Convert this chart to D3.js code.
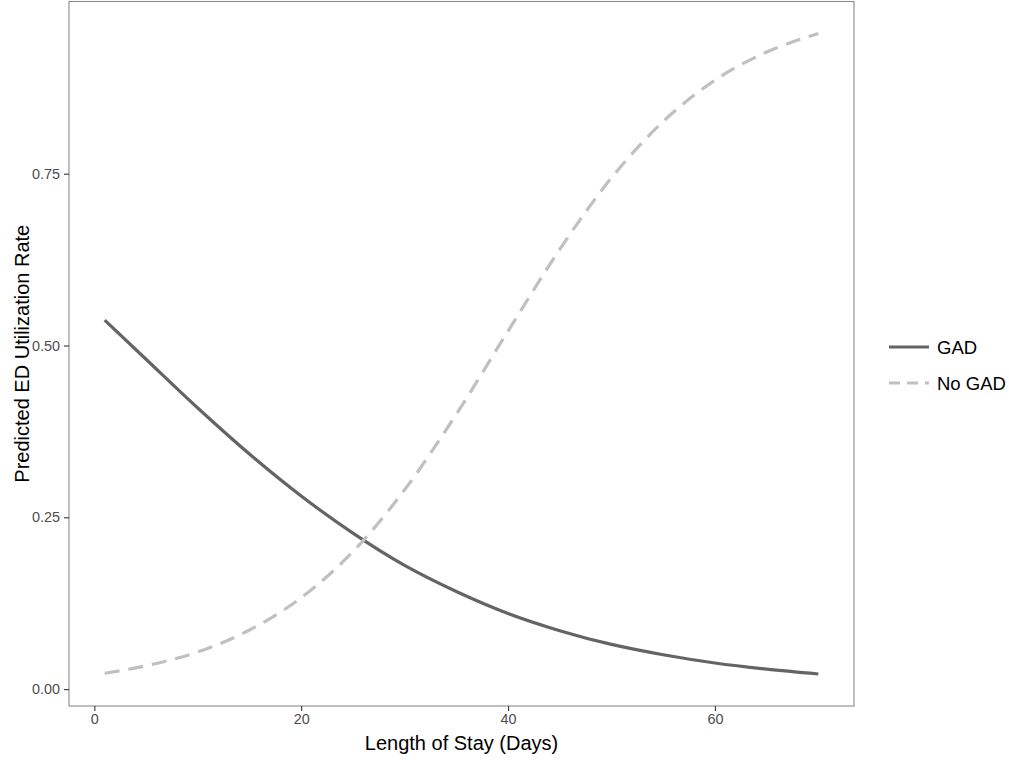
<!DOCTYPE html>
<html>
<head>
<meta charset="utf-8">
<script src="https://cdn.jsdelivr.net/npm/d3@7"></script>
<style>
  body { margin: 0; background: #fff; }
  svg { font-family: "Liberation Sans", Arial, sans-serif; }
</style>
</head>
<body>
<svg id="chart" width="1009" height="764"></svg>
<script>
// length of stay (days) and predicted rates
var days  = [1, 5, 10, 15, 20, 25, 30, 35, 40, 45, 50, 55, 60, 65, 70];
var gad   = [0.537, 0.480, 0.409, 0.342, 0.281, 0.227, 0.180, 0.142, 0.110, 0.085, 0.065, 0.050, 0.038, 0.029, 0.022];
var noGad = [0.023, 0.034, 0.054, 0.086, 0.133, 0.200, 0.290, 0.400, 0.521, 0.640, 0.744, 0.826, 0.886, 0.927, 0.954];
var seriesNames = ["GAD", "No GAD"];
var xTicks = [0, 20, 40, 60];
var yTicks = [0, 0.25, 0.5, 0.75];

var svg = d3.select("#chart");
var pLeft = 69, pRight = 854, pTop = 1.5, pBottom = 706;

var xMin = d3.min(days), xMax = d3.max(days),
    xPad = (xMax - xMin) * 0.05;
var allY = gad.concat(noGad),
    yMin = d3.min(allY), yMax = d3.max(allY),
    yPad = (yMax - yMin) * 0.05;

var x = d3.scaleLinear().domain([xMin - xPad, xMax + xPad]).range([pLeft, pRight]);
var y = d3.scaleLinear().domain([yMin - yPad, yMax + yPad]).range([pBottom, pTop]);

var series = [
  {name: seriesNames[0], values: gad,   color: "#646464", dash: null},
  {name: seriesNames[1], values: noGad, color: "#c0c0c0", dash: "15,9"}
];

var line = d3.line()
  .x(function(d) { return x(d.x); })
  .y(function(d) { return y(d.y); })
  .curve(d3.curveMonotoneX);

svg.selectAll(".series")
    .data(series)
  .enter().append("path")
    .attr("class", "series")
    .attr("fill", "none")
    .attr("stroke", function(d) { return d.color; })
    .attr("stroke-width", 3.2)
    .attr("stroke-dasharray", function(d) { return d.dash; })
    .attr("d", function(d) {
      return line(d.values.map(function(v, i) { return {x: days[i], y: v}; }));
    });

// panel border
svg.append("rect")
    .attr("x", pLeft).attr("y", pTop)
    .attr("width", pRight - pLeft).attr("height", pBottom - pTop)
    .attr("fill", "none")
    .attr("stroke", "#8a8a8a")
    .attr("stroke-width", 1.1);

// axes
var xAxis = svg.append("g")
    .attr("transform", "translate(0," + pBottom + ")")
    .call(d3.axisBottom(x).tickValues(xTicks).tickSize(5).tickPadding(3).tickFormat(d3.format("d")));
var yAxis = svg.append("g")
    .attr("transform", "translate(" + pLeft + ",0)")
    .call(d3.axisLeft(y).tickValues(yTicks).tickSize(5).tickPadding(4).tickFormat(d3.format(".2f")));

[xAxis, yAxis].forEach(function(a) {
  a.select(".domain").remove();
  a.selectAll(".tick line").attr("stroke", "#333").attr("stroke-width", 1.1);
  a.selectAll(".tick text")
    .attr("fill", "#4d4d4d")
    .style("font-size", "14.4px")
    .style("font-family", "Liberation Sans, Arial, sans-serif");
});

// axis titles
svg.append("text")
    .attr("x", (pLeft + pRight) / 2)
    .attr("y", 750)
    .attr("text-anchor", "middle")
    .attr("fill", "#000")
    .style("font-size", "20px")
    .text("Length of Stay (Days)");

svg.append("text")
    .attr("transform", "translate(29," + (pTop + pBottom) / 2 + ")rotate(-90)")
    .attr("text-anchor", "middle")
    .attr("fill", "#000")
    .style("font-size", "20px")
    .text("Predicted ED Utilization Rate");

// legend
var legend = svg.selectAll(".legend")
    .data(series)
  .enter().append("g")
    .attr("class", "legend")
    .attr("transform", function(d, i) { return "translate(889," + (347 + i * 36) + ")"; });

legend.append("line")
    .attr("x1", 0).attr("x2", 40)
    .attr("stroke", function(d) { return d.color; })
    .attr("stroke-width", 3.2)
    .attr("stroke-dasharray", function(d) { return d.dash ? "11,7" : null; });

legend.append("text")
    .attr("x", 48)
    .attr("dy", "0.36em")
    .attr("fill", "#000")
    .style("font-size", "18.5px")
    .text(function(d) { return d.name; });
</script>
</body>
</html>
